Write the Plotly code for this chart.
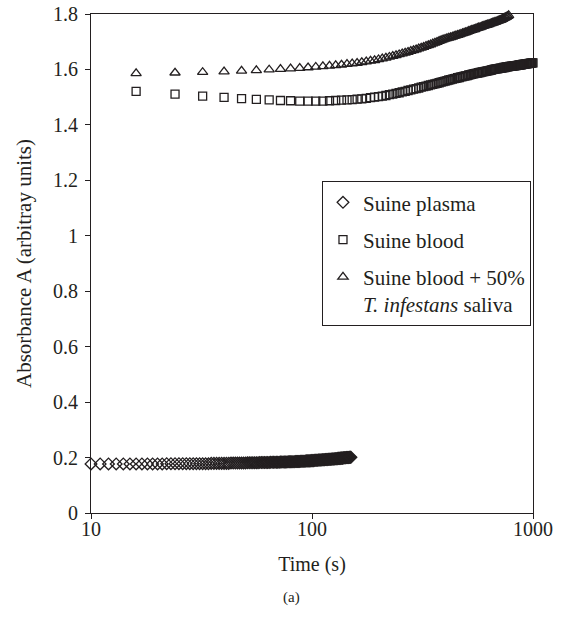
import plotly.graph_objects as go

# ---- data ----
plasma_start, plasma_step = 10, 1
plasma_vals = [
    0.177, 0.177, 0.177, 0.177, 0.177, 0.177, 0.177, 0.177, 0.177, 0.177,
    0.177, 0.177, 0.178, 0.178, 0.178, 0.178, 0.178, 0.178, 0.178, 0.178,
    0.178, 0.178, 0.178, 0.178, 0.178, 0.179, 0.179, 0.179, 0.179, 0.179,
    0.179, 0.179, 0.179, 0.180, 0.180, 0.180, 0.180, 0.180, 0.180, 0.180,
    0.180, 0.181, 0.181, 0.181, 0.181, 0.181, 0.181, 0.181, 0.182, 0.182,
    0.182, 0.182, 0.182, 0.182, 0.182, 0.183, 0.183, 0.183, 0.183, 0.183,
    0.183, 0.183, 0.184, 0.184, 0.184, 0.184, 0.184, 0.184, 0.185, 0.185,
    0.185, 0.185, 0.185, 0.185, 0.186, 0.186, 0.186, 0.186, 0.186, 0.187,
    0.187, 0.187, 0.187, 0.187, 0.188, 0.188, 0.188, 0.188, 0.188, 0.189,
    0.189, 0.189, 0.189, 0.190, 0.190, 0.190, 0.190, 0.191, 0.191, 0.191,
    0.191, 0.192, 0.192, 0.192, 0.192, 0.193, 0.193, 0.193, 0.193, 0.194,
    0.194, 0.194, 0.194, 0.195, 0.195, 0.195, 0.195, 0.196, 0.196, 0.196,
    0.196, 0.197, 0.197, 0.197, 0.197, 0.198, 0.198, 0.198, 0.198, 0.199,
    0.199, 0.199, 0.199, 0.200, 0.200, 0.200, 0.200, 0.200, 0.201, 0.201,
    0.201,
]

blood_start, blood_step = 16, 8
blood_vals = [
    1.521, 1.511, 1.504, 1.499, 1.495, 1.492, 1.490, 1.488, 1.487, 1.486,
    1.486, 1.486, 1.486, 1.487, 1.488, 1.489, 1.490, 1.491, 1.493, 1.494,
    1.496, 1.498, 1.500, 1.502, 1.504, 1.506, 1.509, 1.511, 1.514, 1.516,
    1.519, 1.521, 1.524, 1.526, 1.529, 1.531, 1.533, 1.536, 1.538, 1.540,
    1.542, 1.544, 1.546, 1.548, 1.550, 1.552, 1.554, 1.556, 1.558, 1.560,
    1.562, 1.563, 1.565, 1.567, 1.568, 1.570, 1.571, 1.573, 1.574, 1.576,
    1.577, 1.578, 1.580, 1.581, 1.582, 1.584, 1.585, 1.586, 1.587, 1.588,
    1.589, 1.590, 1.591, 1.592, 1.593, 1.594, 1.595, 1.596, 1.597, 1.598,
    1.599, 1.600, 1.601, 1.602, 1.602, 1.603, 1.604, 1.605, 1.605, 1.606,
    1.607, 1.607, 1.608, 1.609, 1.609, 1.610, 1.611, 1.611, 1.612, 1.612,
    1.613, 1.613, 1.614, 1.614, 1.615, 1.615, 1.616, 1.616, 1.617, 1.617,
    1.618, 1.618, 1.619, 1.619, 1.620, 1.620, 1.621, 1.621, 1.622, 1.622,
    1.623, 1.623, 1.624, 1.624,
]

saliva_start, saliva_step = 16, 8
saliva_vals = [
    1.586, 1.588, 1.590, 1.592, 1.595, 1.597, 1.599, 1.601, 1.603, 1.605,
    1.607, 1.609, 1.611, 1.613, 1.615, 1.617, 1.619, 1.621, 1.623, 1.626,
    1.628, 1.631, 1.633, 1.636, 1.639, 1.642, 1.645, 1.648, 1.651, 1.654,
    1.657, 1.660, 1.663, 1.666, 1.669, 1.672, 1.675, 1.678, 1.681, 1.684,
    1.687, 1.690, 1.693, 1.696, 1.699, 1.702, 1.705, 1.708, 1.710, 1.712,
    1.714, 1.716, 1.718, 1.720, 1.722, 1.724, 1.726, 1.728, 1.730, 1.732,
    1.734, 1.736, 1.738, 1.740, 1.742, 1.744, 1.745, 1.747, 1.749, 1.751,
    1.752, 1.754, 1.756, 1.757, 1.759, 1.760, 1.762, 1.763, 1.765, 1.766,
    1.768, 1.769, 1.771, 1.772, 1.774, 1.775, 1.777, 1.778, 1.780, 1.782,
    1.784, 1.786, 1.788, 1.790, 1.792, 1.795,
]

plasma_t = [plasma_start + plasma_step * i for i in range(len(plasma_vals))]
blood_t = [blood_start + blood_step * i for i in range(len(blood_vals))]
saliva_t = [saliva_start + saliva_step * i for i in range(len(saliva_vals))]

series_names = ["Suine plasma", "Suine blood",
                "Suine blood + 50%<br><i>T. infestans</i> saliva"]
y_ticks = [0, 0.2, 0.4, 0.6, 0.8, 1.0, 1.2, 1.4, 1.6, 1.8]
y_ticklabels = ["0", "0.2", "0.4", "0.6", "0.8", "1", "1.2", "1.4", "1.6", "1.8"]
x_ticks = [10, 100, 1000]
x_ticklabels = ["10", "100", "1000"]

FONT = "Liberation Serif"
INK = "#231f20"

fig = go.Figure()
styles = [("diamond-open", 9), ("square-open", 8), ("triangle-up-open", 9)]
for i, (t, v, name, (sym, sz)) in enumerate(zip([plasma_t, blood_t, saliva_t],
                                                [plasma_vals, blood_vals, saliva_vals],
                                                series_names, styles)):
    fig.add_trace(go.Scatter(
        x=t, y=v, name=name, mode="markers", cliponaxis=False,
        legendgroup="g%d" % i,
        marker=dict(symbol=sym, size=sz, color=INK, line=dict(color=INK, width=1.3)),
    ))

axis_common = dict(showgrid=False, zeroline=False, showline=True, linecolor=INK,
                   linewidth=1, mirror=True, ticks="outside", ticklen=5,
                   tickcolor=INK, automargin=False,
                   tickfont=dict(family=FONT, size=20, color=INK))

fig.update_layout(
    width=566, height=617,
    margin=dict(l=91, r=33, t=14, b=104),
    paper_bgcolor="white", plot_bgcolor="white",
    font=dict(family=FONT, color=INK, size=20),
    xaxis=dict(type="log", range=[1, 3], tickvals=x_ticks, ticktext=x_ticklabels,
               ticklabelstandoff=-7,
               title=dict(text="Time (s)", font=dict(family=FONT, size=20, color=INK),
                          standoff=17),
               **axis_common),
    yaxis=dict(range=[0, 1.8], tickvals=y_ticks, ticktext=y_ticklabels,
               ticklabelstandoff=3,
               title=dict(text="Absorbance A (arbitray units)",
                          font=dict(family=FONT, size=21, color=INK), standoff=15),
               **axis_common),
    legend=dict(x=0.5226, y=0.665, xanchor="left", yanchor="top",
                bordercolor=INK, borderwidth=1, bgcolor="white",
                font=dict(family=FONT, size=21, color=INK),
                itemwidth=30, tracegroupgap=7, valign="top"),
    showlegend=True,
)

fig.add_annotation(text="(a)", xref="paper", yref="paper", x=0.4525, y=-0.17,
                   xanchor="center", yanchor="middle", showarrow=False,
                   font=dict(family=FONT, size=15, color=INK))

fig.write_html("out.html", config={"displayModeBar": False},
               post_script="document.body.style.margin='0px';")
